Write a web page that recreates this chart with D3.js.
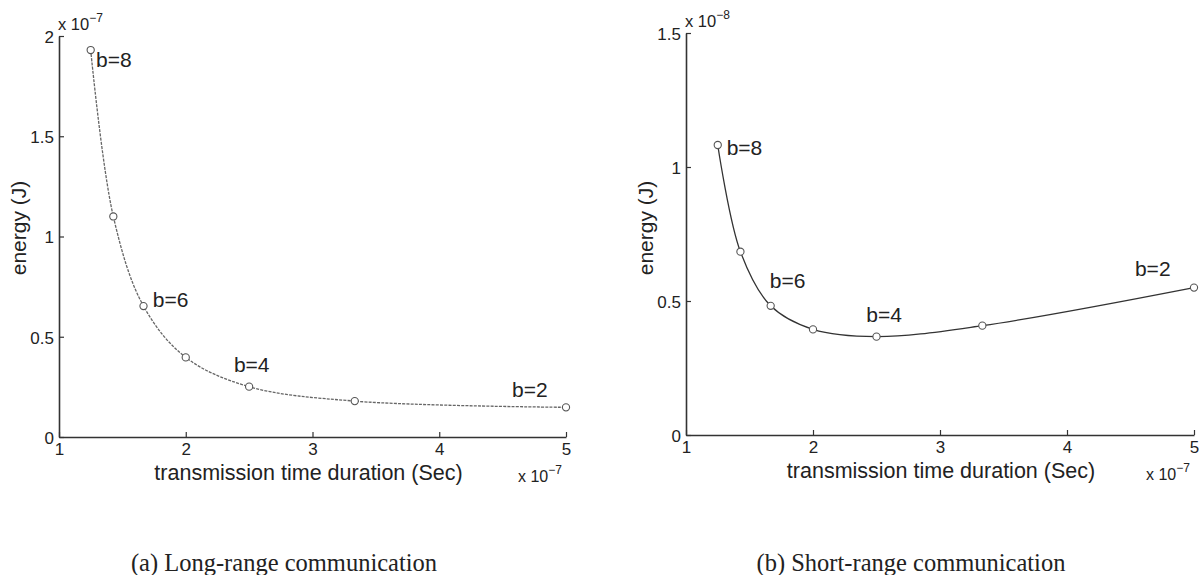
<!DOCTYPE html>
<html>
<head>
<meta charset="utf-8">
<script src="https://cdn.jsdelivr.net/npm/d3@7/dist/d3.min.js"></script>
<style>
  html, body { margin: 0; padding: 0; background: #fff; }
  svg { display: block; }
  text { font-family: "Liberation Sans", Arial, Helvetica, sans-serif; fill: #222; }
  .cap { font-family: "Liberation Serif", "Times New Roman", serif; }
</style>
</head>
<body>
<svg id="chart" width="1204" height="575"></svg>
<script>
// ---- data ----
const bValues = [8, 7, 6, 5, 4, 3, 2];
const timeDuration = [1.25, 1.4286, 1.6667, 2.0, 2.5, 3.3333, 5.0];   // x 1e-7 s
const energyLong = [1.93, 1.10, 0.653, 0.397, 0.251, 0.179, 0.148];   // x 1e-7 J
const energyShort = [1.082, 0.684, 0.482, 0.394, 0.367, 0.408, 0.55]; // x 1e-8 J
const xTicks = [1, 2, 3, 4, 5];
const yTicksLong = [0, 0.5, 1, 1.5, 2];
const yTicksShort = [0, 0.5, 1, 1.5];
const labelsLong = [
  { text: "b=8", x: 1.292, y: 1.845 },
  { text: "b=6", x: 1.74, y: 0.648 },
  { text: "b=4", x: 2.38, y: 0.324 },
  { text: "b=2", x: 4.574, y: 0.2 }
];
const labelsShort = [
  { text: "b=8", x: 1.32, y: 1.045 },
  { text: "b=6", x: 1.66, y: 0.549 },
  { text: "b=4", x: 2.42, y: 0.42 },
  { text: "b=2", x: 4.535, y: 0.593 }
];
const xLabel = "transmission time duration (Sec)";
const yLabel = "energy (J)";
const captions = ["(a) Long-range communication", "(b) Short-range communication"];

const svg = d3.select("#chart");

function panel(opt) {
  const x = d3.scaleLinear().domain([1, 5]).range([opt.x0, opt.x1]);
  const y = d3.scaleLinear().domain([0, opt.yMax]).range([opt.y0, opt.y1]);
  const g = svg.append("g");

  // axes (MATLAB-style inward ticks)
  const xa = g.append("g").attr("transform", `translate(0,${opt.y0})`)
    .call(d3.axisBottom(x).tickValues(xTicks).tickSizeInner(-5).tickSizeOuter(0).tickPadding(6).tickFormat(d3.format("d")));
  const ya = g.append("g").attr("transform", `translate(${opt.x0},0)`)
    .call(d3.axisLeft(y).tickValues(opt.yTicks).tickSizeInner(-5).tickSizeOuter(0).tickPadding(5).tickFormat(d => d === 0 ? "0" : d3.format("")(d)));
  [xa, ya].forEach(a => {
    a.select(".domain").attr("stroke", "#333").attr("stroke-width", 1.6);
    a.selectAll(".tick line").attr("stroke", "#333").attr("stroke-width", 1.2);
    a.selectAll(".tick text").attr("font-size", 17).attr("fill", "#222")
      .attr("font-family", '"Liberation Sans", Arial, sans-serif');
  });
  ya.selectAll(".tick text").attr("dy", "0.38em");

  // curve
  const pts = timeDuration.map((t, i) => [t, opt.values[i]]);
  const line = d3.line().x(d => x(d[0])).y(d => y(d[1])).curve(d3.curveCatmullRom.alpha(0.5));
  g.append("path").datum(pts).attr("d", line)
    .attr("fill", "none").attr("stroke", opt.lineColor).attr("stroke-width", 1.3)
    .attr("stroke-dasharray", opt.dash);

  g.selectAll("circle.m").data(pts).join("circle").attr("class", "m")
    .attr("cx", d => x(d[0])).attr("cy", d => y(d[1])).attr("r", 3.6)
    .attr("fill", "#fff").attr("stroke", "#555").attr("stroke-width", 1.1);

  // b labels
  g.selectAll("text.bl").data(opt.labels).join("text").attr("class", "bl")
    .attr("x", d => x(d.x)).attr("y", d => y(d.y))
    .attr("font-size", 21).text(d => d.text);

  // exponent labels
  const top = g.append("text").attr("x", opt.x0 - 1).attr("y", opt.y1 - 6).attr("font-size", 16.5);
  top.append("tspan").text("x 10");
  top.append("tspan").attr("dy", -8).attr("font-size", 12).text(opt.yExp);
  const bot = g.append("text").attr("x", opt.x1 - 48).attr("y", opt.y0 + 45).attr("font-size", 16);
  bot.append("tspan").text("x 10");
  bot.append("tspan").attr("dy", -8).attr("font-size", 12).text("\u22127");

  // axis labels
  g.append("text").attr("x", (opt.x0 + opt.x1) / 2 + opt.xlShift).attr("y", opt.y0 + 43)
    .attr("text-anchor", "middle").attr("font-size", 21.5).text(xLabel);
  g.append("text").attr("transform", `translate(${opt.x0 - 33},${opt.ylY}) rotate(-90)`)
    .attr("text-anchor", "middle").attr("font-size", 21).text(yLabel);

  // caption
  svg.append("text").attr("class", "cap").attr("x", opt.capX).attr("y", 571)
    .attr("text-anchor", "middle").attr("font-size", 24.5).attr("fill", "#222").text(opt.caption);
}

panel({ x0: 59, x1: 566, y0: 437, y1: 36, yMax: 2, yTicks: yTicksLong, values: energyLong,
  labels: labelsLong, yExp: "\u22127", lineColor: "#666", dash: "3,1.2", xlShift: -4,
  ylY: 228, caption: captions[0], capX: 284 });
panel({ x0: 686, x1: 1194, y0: 435, y1: 33, yMax: 1.5, yTicks: yTicksShort, values: energyShort,
  labels: labelsShort, yExp: "\u22128", lineColor: "#333", dash: null, xlShift: 1,
  ylY: 228, caption: captions[1], capX: 911 });
</script>
</body>
</html>
